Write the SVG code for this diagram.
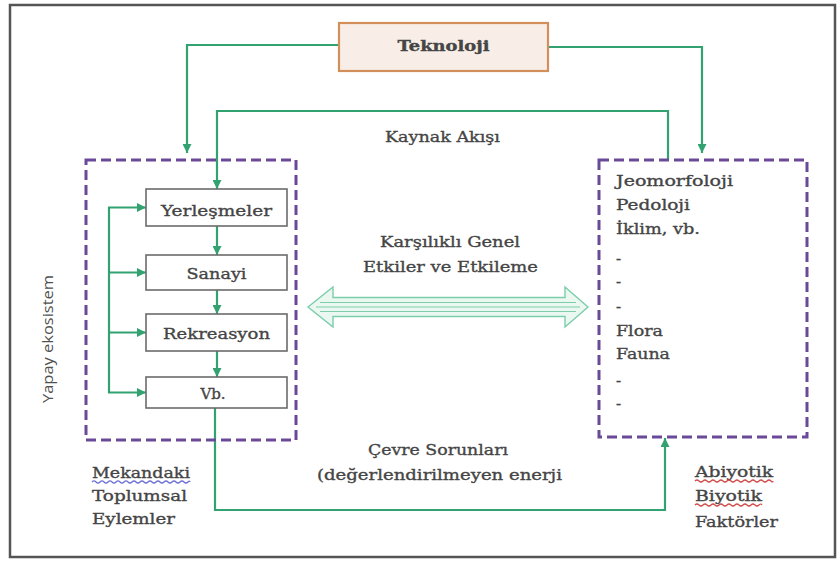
<svg xmlns="http://www.w3.org/2000/svg" width="838" height="561" viewBox="0 0 838 561">
  <defs>
    <marker id="arr" viewBox="0 0 10 10" refX="10" refY="5" markerWidth="9" markerHeight="9" markerUnits="userSpaceOnUse" orient="auto">
      <path d="M0,0 L10,5 L0,10 Z" fill="#33a271"/>
    </marker>
    <style>
      .frame { fill: #ffffff; stroke: #555555; stroke-width: 2.5; }
      .flow { fill: none; stroke: #33a271; stroke-width: 2.2; }
      .group { fill: none; stroke: #6a4a98; stroke-width: 3; stroke-dasharray: 10 5; }
      .box { fill: #ffffff; stroke: #6b6b6b; stroke-width: 1.6; }
      .tech { fill: #f8eee7; stroke: #d38f59; stroke-width: 2.2; }
      .t { font-family: "DejaVu Serif", "Liberation Serif", serif; font-size: 15px; fill: #454545; stroke: #454545; stroke-width: 0.35; }
      .c { text-anchor: middle; }
      .side { font-family: "Open Sans", "Liberation Sans", sans-serif; font-size: 15px; fill: #505050; }
      .big { fill: #eaf8f1; stroke: #7ccdaa; stroke-width: 1.4; }
      .stripe { stroke: #7ccdaa; stroke-width: 1.2; }
      .sq-blue { fill: none; stroke: #6d6fd6; stroke-width: 1.2; }
      .sq-red { fill: none; stroke: #d24a4a; stroke-width: 1.2; }
    </style>
  </defs>

  <!-- outer frame -->
  <rect class="frame" x="10" y="5" width="825" height="552"/>

  <!-- connectors -->
  <g id="connectors">
    <!-- technology feeds both systems -->
    <polyline class="flow" points="339,45 187,45 187,153" marker-end="url(#arr)"/>
    <polyline class="flow" points="548,47 702,47 702,153" marker-end="url(#arr)"/>
    <!-- resource flow -->
    <polyline class="flow" points="668,160 668,111 217,111 217,189" marker-end="url(#arr)"/>
    <!-- chain of activities -->
    <line class="flow" x1="217" y1="226" x2="217" y2="255" marker-end="url(#arr)"/>
    <line class="flow" x1="217" y1="290" x2="217" y2="314" marker-end="url(#arr)"/>
    <line class="flow" x1="217" y1="351" x2="217" y2="377" marker-end="url(#arr)"/>
    <!-- left bracket -->
    <line class="flow" x1="109" y1="207" x2="109" y2="393"/>
    <line class="flow" x1="108" y1="207.5" x2="146" y2="207.5" marker-end="url(#arr)"/>
    <line class="flow" x1="109" y1="272.5" x2="146" y2="272.5" marker-end="url(#arr)"/>
    <line class="flow" x1="109" y1="332.5" x2="146" y2="332.5" marker-end="url(#arr)"/>
    <line class="flow" x1="108" y1="392.5" x2="146" y2="392.5" marker-end="url(#arr)"/>
    <!-- environmental problems -->
    <polyline class="flow" points="215,408 215,510 665,510 665,438" marker-end="url(#arr)"/>
    <!-- mutual effects -->
    <g id="mutual">
      <polygon class="big" points="308,307 333,287 333,297.5 565,297.5 565,287 588,307 565,327 565,316.5 333,316.5 333,327"/>
      <line class="stripe" x1="320" y1="302.5" x2="576" y2="302.5"/>
      <line class="stripe" x1="316" y1="307" x2="580" y2="307"/>
      <line class="stripe" x1="320" y1="311.5" x2="576" y2="311.5"/>
    </g>
  </g>

  <!-- technology -->
  <g id="teknoloji">
    <rect class="tech" x="339" y="23" width="209" height="48"/>
    <text class="t c" x="443.5" y="51" font-size="16" font-weight="bold" stroke-width="0" fill="#4a4a4a" textLength="92" lengthAdjust="spacingAndGlyphs">Teknoloji</text>
  </g>

  <!-- artificial ecosystem -->
  <g id="yapay">
    <rect class="group" x="86" y="160" width="210" height="280"/>
    <text class="side" transform="translate(53,339) rotate(-90)" text-anchor="middle" textLength="128" lengthAdjust="spacingAndGlyphs">Yapay ekosistem</text>
  </g>
  <g id="yerlesmeler">
    <rect class="box" x="146" y="189" width="141" height="37"/>
    <text class="t c" x="216.5" y="216" textLength="111" lengthAdjust="spacingAndGlyphs">Yerleşmeler</text>
  </g>
  <g id="sanayi">
    <rect class="box" x="146" y="255" width="141" height="35"/>
    <text class="t c" x="216.5" y="279" textLength="60" lengthAdjust="spacingAndGlyphs">Sanayi</text>
  </g>
  <g id="rekreasyon">
    <rect class="box" x="146" y="314" width="141" height="37"/>
    <text class="t c" x="216.5" y="339" textLength="107" lengthAdjust="spacingAndGlyphs">Rekreasyon</text>
  </g>
  <g id="vb">
    <rect class="box" x="146" y="377" width="141" height="31"/>
    <text class="t c" x="213" y="399">Vb.</text>
  </g>

  <!-- natural environment -->
  <g id="dogal">
    <rect class="group" x="599" y="160" width="208" height="277"/>
    <text class="t" x="616" y="186" textLength="117" lengthAdjust="spacingAndGlyphs">Jeomorfoloji</text>
    <text class="t" x="616" y="210" textLength="74" lengthAdjust="spacingAndGlyphs">Pedoloji</text>
    <text class="t" x="616" y="234" textLength="84" lengthAdjust="spacingAndGlyphs">İklim, vb.</text>
    <text class="t" x="616" y="264" font-size="10">-</text>
    <text class="t" x="616" y="287" font-size="10">-</text>
    <text class="t" x="616" y="312" font-size="10">-</text>
    <text class="t" x="616" y="336" textLength="47" lengthAdjust="spacingAndGlyphs">Flora</text>
    <text class="t" x="616" y="359" textLength="54" lengthAdjust="spacingAndGlyphs">Fauna</text>
    <text class="t" x="616" y="386" font-size="10">-</text>
    <text class="t" x="616" y="409" font-size="10">-</text>
  </g>

  <!-- labels -->
  <g id="labels">
    <text class="t c" x="442.5" y="142" textLength="115" lengthAdjust="spacingAndGlyphs">Kaynak Akışı</text>
    <text class="t c" x="450" y="247" textLength="140" lengthAdjust="spacingAndGlyphs">Karşılıklı Genel</text>
    <text class="t c" x="450.5" y="272" textLength="175" lengthAdjust="spacingAndGlyphs">Etkiler ve Etkileme</text>
    <text class="t c" x="438" y="455" textLength="140" lengthAdjust="spacingAndGlyphs">Çevre Sorunları</text>
    <text class="t c" x="439.5" y="480" textLength="245" lengthAdjust="spacingAndGlyphs">(değerlendirilmeyen enerji</text>

    <text class="t" x="92" y="478" textLength="98" lengthAdjust="spacingAndGlyphs">Mekandaki</text>
    <path class="sq-blue" d="M92,482 q2,-2 4,0 t4,0 t4,0 t4,0 t4,0 t4,0 t4,0 t4,0 t4,0 t4,0 t4,0 t4,0 t4,0 t4,0 t4,0 t4,0 t4,0 t4,0 t4,0 t4,0 t4,0 t4,0 t4,0 t4,0 t2,0"/>
    <text class="t" x="92" y="501" textLength="95" lengthAdjust="spacingAndGlyphs">Toplumsal</text>
    <text class="t" x="92" y="524" textLength="83" lengthAdjust="spacingAndGlyphs">Eylemler</text>

    <text class="t" x="695" y="477" textLength="78" lengthAdjust="spacingAndGlyphs">Abiyotik</text>
    <path class="sq-red" d="M695,481 q2,-2 4,0 t4,0 t4,0 t4,0 t4,0 t4,0 t4,0 t4,0 t4,0 t4,0 t4,0 t4,0 t4,0 t4,0 t4,0 t4,0 t4,0 t4,0 t4,0 t2,0"/>
    <text class="t" x="695" y="501" textLength="67" lengthAdjust="spacingAndGlyphs">Biyotik</text>
    <path class="sq-red" d="M695,505 q2,-2 4,0 t4,0 t4,0 t4,0 t4,0 t4,0 t4,0 t4,0 t4,0 t4,0 t4,0 t4,0 t4,0 t4,0 t4,0 t4,0 t3,0"/>
    <text class="t" x="695" y="527" textLength="83" lengthAdjust="spacingAndGlyphs">Faktörler</text>
  </g>
</svg>
